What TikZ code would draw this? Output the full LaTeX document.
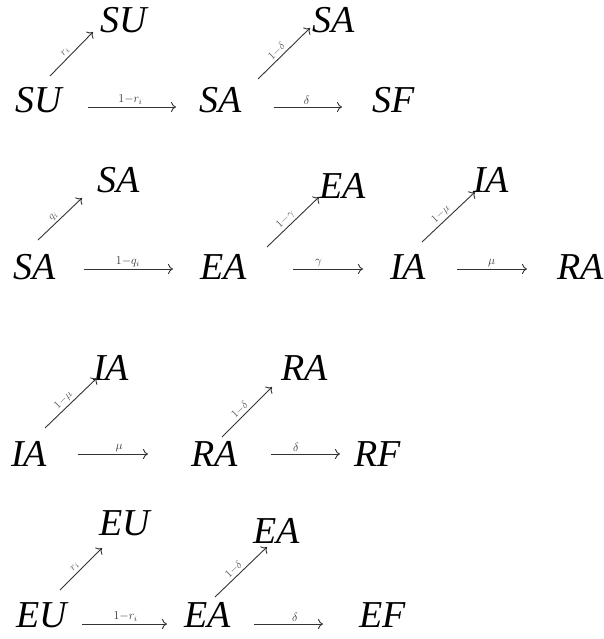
\documentclass[tikz,border=0pt]{standalone}
\usepackage{fontspec}
\setmainfont{Liberation Serif}
\usetikzlibrary{arrows.meta}

\tikzset{
  state/.style={inner sep=0pt,anchor=base west,font=\fontsize{38}{40}\selectfont\itshape},
  flow/.style={->,line width=0.9pt,black!80},
  rate/.style={font=\fontsize{12}{13}\selectfont,inner sep=2pt,text=black!80},
  srate/.style={rate,sloped,pos=0.45,font=\fontsize{11}{12}\selectfont,text=black!65},
}

\begin{document}
\begin{tikzpicture}[x=1pt,y=1pt,>={To[length=5pt,width=10pt]}]
\useasboundingbox (0,0) rectangle (604,-639);
% row 1: SU
\node[state] (su1) at (15,-113) {SU};
\node[state] (su2) at (100,-33) {SU};
\node[state] (sa1) at (199,-113) {SA};
\node[state] (sa2) at (312,-33) {SA};
\node[state] (sf) at (372,-113) {SF};
\draw[flow] ([shift={(35,37)}]su1.base west) -- node[srate,above]{$r_i$} ([shift={(-7,1)}]su2.base west);
\draw[flow,shorten <=26pt,shorten >=23pt] ([yshift=6pt]su1.base east) -- node[rate,above]{$1{-}r_i$} ([yshift=6pt]sa1.base west);
\draw[flow] ([shift={(59,34)}]sa1.base west) -- node[srate,above]{$1{-}\delta$} ([shift={(-2,5)}]sa2.base west);
\draw[flow,shorten <=32pt,shorten >=30pt] ([yshift=6pt]sa1.base east) -- node[rate,above]{$\delta$} ([yshift=6pt]sf.base west);
% row 2: SA
\node[state] (sa3) at (13,-279) {SA};
\node[state] (sa4) at (97,-193) {SA};
\node[state] (ea1) at (200,-279) {EA};
\node[state] (ea2) at (319,-198) {EA};
\node[state] (ia1) at (390,-279) {IA};
\node[state] (ia2) at (473,-193) {IA};
\node[state] (ra1) at (557,-279) {RA};
\draw[flow] ([shift={(25,39)}]sa3.base west) -- node[srate,above]{$q_i$} ([shift={(-15,-5)}]sa4.base west);
\draw[flow,shorten <=28pt,shorten >=27pt] ([yshift=10pt]sa3.base east) -- node[rate,above]{$1{-}q_i$} ([yshift=10pt]ea1.base west);
\draw[flow] ([shift={(67,32)}]ea1.base west) -- node[srate,above]{$1{-}\gamma$} ([shift={(0,1)}]ea2.base west);
\draw[flow,shorten <=46pt,shorten >=27pt] ([yshift=10pt]ea1.base east) -- node[rate,above]{$\gamma$} ([yshift=10pt]ia1.base west);
\draw[flow] ([shift={(32,37)}]ia1.base west) -- node[srate,above]{$1{-}\mu$} ([shift={(2,1)}]ia2.base west);
\draw[flow,shorten <=31pt,shorten >=30pt] ([yshift=10pt]ia1.base east) -- node[rate,above]{$\mu$} ([yshift=10pt]ra1.base west);
% row 3: IA
\node[state] (ia3) at (11,-466) {IA};
\node[state] (ia4) at (93,-380) {IA};
\node[state] (ra2) at (191,-466) {RA};
\node[state] (ra3) at (281,-380) {RA};
\node[state] (rf) at (354,-466) {RF};
\draw[flow] ([shift={(34,38)}]ia3.base west) -- node[srate,above]{$1{-}\mu$} ([shift={(4,2)}]ia4.base west);
\draw[flow,shorten <=31pt,shorten >=43pt] ([yshift=12pt]ia3.base east) -- node[rate,above]{$\mu$} ([yshift=12pt]ra2.base west);
\draw[flow] ([shift={(31,29)}]ra2.base west) -- node[srate,above]{$1{-}\delta$} ([shift={(-9,-7)}]ra3.base west);
\draw[flow,shorten <=33pt,shorten >=14pt] ([yshift=12pt]ra2.base east) -- node[rate,above]{$\delta$} ([yshift=12pt]rf.base west);
% row 4: EU
\node[state] (eu1) at (16,-627) {EU};
\node[state] (eu2) at (99,-535) {EU};
\node[state] (ea3) at (184,-627) {EA};
\node[state] (ea4) at (253,-543) {EA};
\node[state] (ef) at (359,-627) {EF};
\draw[flow] ([shift={(44,37)}]eu1.base west) -- node[srate,above]{$r_i$} ([shift={(3,-13)}]eu2.base west);
\draw[flow,shorten <=15pt,shorten >=17pt] ([yshift=3pt]eu1.base east) -- node[rate,above]{$1{-}r_i$} ([yshift=3pt]ea3.base west);
\draw[flow] ([shift={(31,30)}]ea3.base west) -- node[srate,above]{$1{-}\delta$} ([shift={(14,-4)}]ea4.base west);
\draw[flow,shorten <=23pt,shorten >=36pt] ([yshift=3pt]ea3.base east) -- node[rate,above]{$\delta$} ([yshift=3pt]ef.base west);
\end{tikzpicture}
\end{document}
